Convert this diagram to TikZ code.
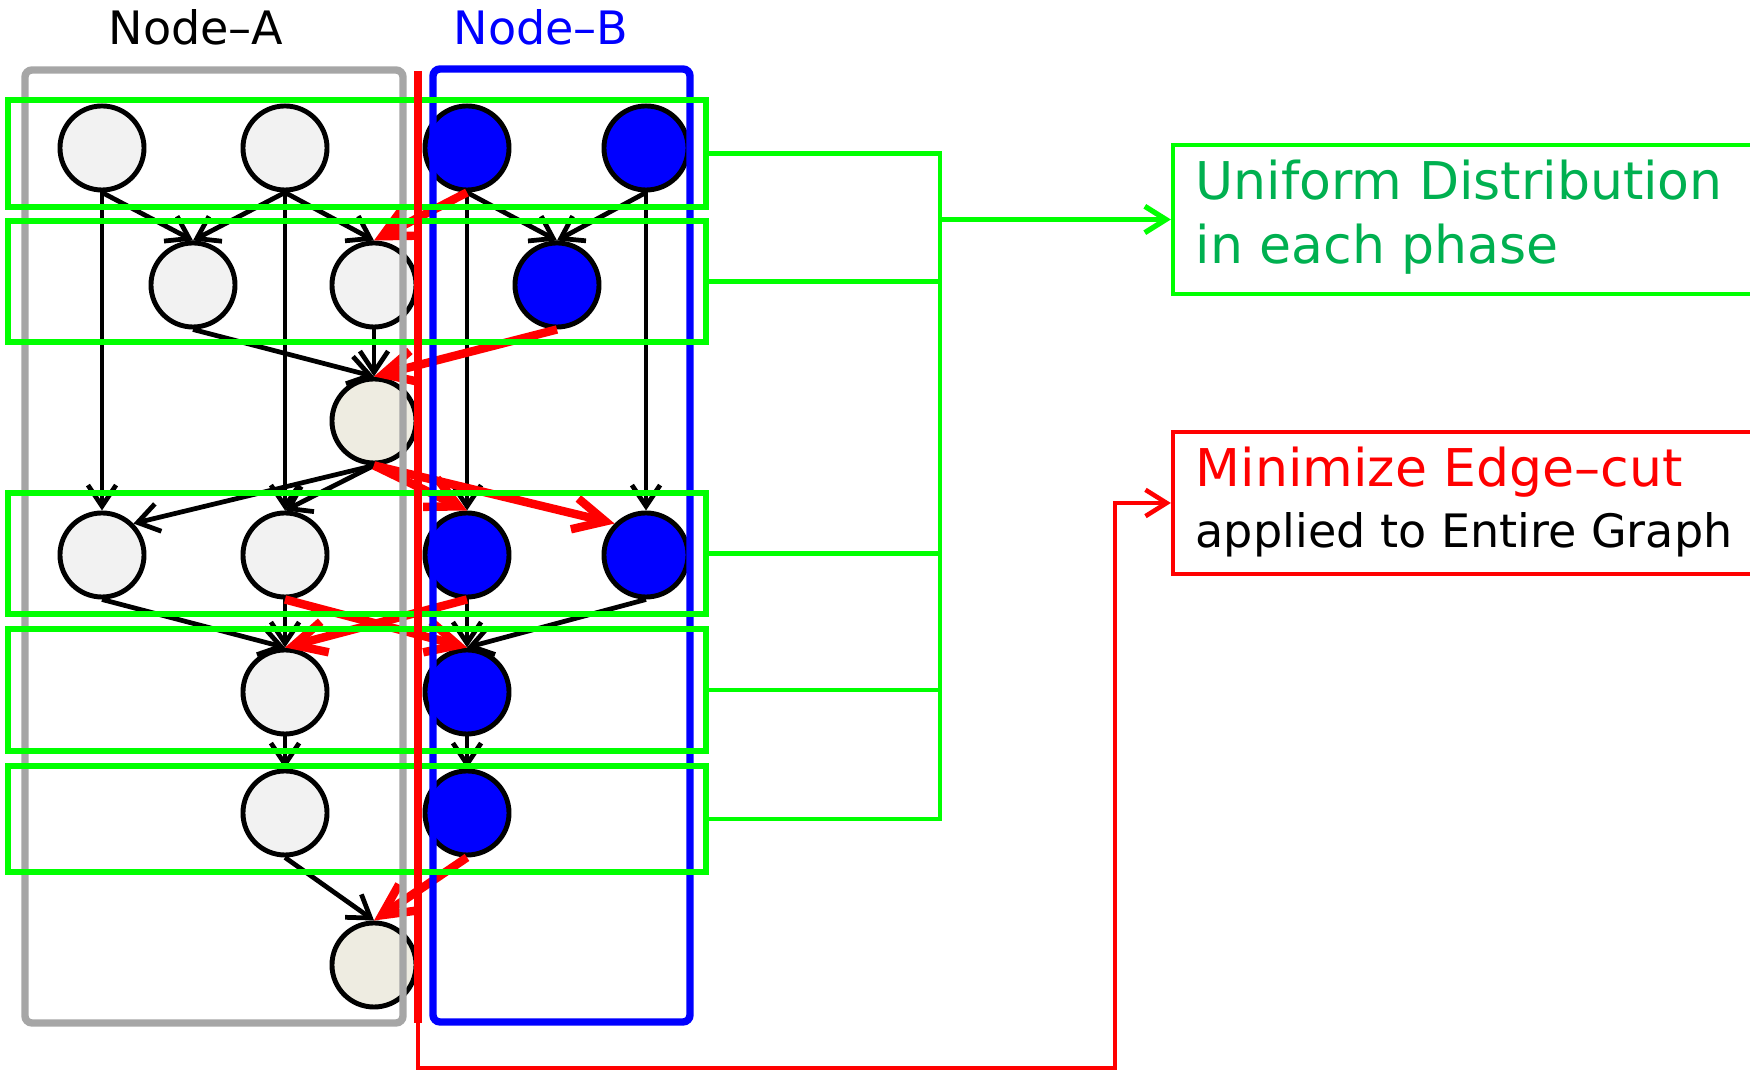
\documentclass[tikz,border=0pt]{standalone}
\usepackage{fontspec}
\setmainfont{DejaVu Sans}
\usepackage{tikz}
\usetikzlibrary{arrows.meta, positioning, calc}
\definecolor{PhaseGreen}{RGB}{0, 255, 0}
\definecolor{TextGreen}{RGB}{0, 176, 80}
\definecolor{HostGray}{RGB}{166, 166, 166}
\definecolor{TaskGray}{RGB}{242, 242, 242}
\definecolor{TaskTan}{RGB}{238, 236, 225}

\begin{document}
\begin{tikzpicture}[
    x=0.01cm, y=-0.01cm,
    task/.style={circle, draw=black, line width=1.4pt, fill=TaskGray,
                 minimum size=8.4mm, inner sep=0pt},
    taskB/.style={task, fill=blue},
    taskT/.style={task, fill=TaskTan},
    dep/.style={-{Straight Barb[length=6pt,width=8pt]}, line width=1.35pt},
    cutdep/.style={-{Straight Barb[length=9pt,width=9pt]}, line width=2.4pt, color=red},
    phase/.style={rectangle, draw=PhaseGreen, line width=1.6pt,
                  minimum width=69.8mm, inner sep=0pt},
    goalbox/.style={rectangle, line width=1.1pt, minimum width=58.7mm, inner sep=0pt},
    bracket/.style={draw=PhaseGreen, line width=1.3pt},
    big/.style={font=\fontsize{14.8}{18}\selectfont, anchor=base west, inner sep=0pt},
    small/.style={font=\fontsize{13.1}{16}\selectfont, anchor=base west, inner sep=0pt}
]
\useasboundingbox (0,0) rectangle (1750,1071);

% host labels
\node[small, anchor=base] (hostAlabel) at (196,45) {Node–A};
\node[small, anchor=base, text=blue] (hostBlabel) at (541,45) {Node–B};

% tasks
\node[task]  (a1) at (102,148) {};
\node[task]  (a2) at (285,148) {};
\node[taskB] (b1) at (467,148) {};
\node[taskB] (b2) at (646,148) {};
\node[task]  (a3) at (193,285) {};
\node[task]  (a4) at (374,285) {};
\node[taskB] (b3) at (557,285) {};
\node[taskT] (a5) at (374,421) {};
\node[task]  (a6) at (102,555) {};
\node[task]  (a7) at (285,555) {};
\node[taskB] (b4) at (467,555) {};
\node[taskB] (b5) at (646,555) {};
\node[task]  (a8) at (285,692) {};
\node[taskB] (b6) at (467,692) {};
\node[task]  (a9) at (285,813) {};
\node[taskB] (b7) at (467,813) {};
\node[taskT] (a10) at (374,965) {};

% local dependencies
\draw[dep] (a1.south) -- (a3.north);
\draw[dep] (a2.south) -- (a3.north);
\draw[dep] (a2.south) -- (a4.north);
\draw[dep] (a1.south) -- (a6.north);
\draw[dep] (a2.south) -- (a7.north);
\draw[dep] (b1.south) -- (b3.north);
\draw[dep] (b2.south) -- (b3.north);
\draw[dep] (b1.south) -- (b4.north);
\draw[dep] (b2.south) -- (b5.north);
\draw[dep] (a3.south) -- (a5.north);
\draw[dep] (a4.south) -- (a5.north);
\draw[dep] (a5.south) -- (a6.north east);
\draw[dep] (a5.south) -- (a7.north);
\draw[dep] (a6.south) -- (a8.north);
\draw[dep] (a7.south) -- (a8.north);
\draw[dep] (b4.south) -- (b6.north);
\draw[dep] (b5.south) -- (b6.north);
\draw[dep] (a8.south) -- (a9.north);
\draw[dep] (b6.south) -- (b7.north);
\draw[dep] (a9.south) -- (a10.north);

% cut dependencies
\draw[cutdep] (b1.south) -- (a4.north);
\draw[cutdep] (b3.south) -- (a5.north);
\draw[cutdep] (a5.south) -- (b4.north);
\draw[cutdep] (a5.south) -- (b5.north west);
\draw[cutdep] (a7.south) -- (b6.north);
\draw[cutdep] (b4.south) -- (a8.north);
\draw[cutdep] (b7.south) -- (a10.north);

% hosts
\draw[draw=HostGray, line width=2.1pt, rounded corners=2pt] (25,70) rectangle (403,1023);
\draw[draw=blue, line width=2.1pt, rounded corners=2pt] (433,69) rectangle (690,1022);

% phases
\node[phase, minimum height=10.7mm] (ph1) at (357,153.5) {};
\node[phase, minimum height=12.1mm] (ph2) at (357,281.5) {};
\node[phase, minimum height=12.1mm] (ph3) at (357,553.5) {};
\node[phase, minimum height=12.2mm] (ph4) at (357,690) {};
\node[phase, minimum height=10.6mm] (ph5) at (357,819) {};

% goals
\node[goalbox, draw=PhaseGreen, minimum height=14.9mm] (unif) at (1466.5,219.5) {};
\node[big, text=TextGreen] (unif1) at (1195,200) {Uniform Distribution};
\node[big, text=TextGreen] (unif2) at (1195,264) {in each phase};
\node[goalbox, draw=red, minimum height=14.2mm] (cut) at (1466.5,503) {};
\node[big, text=red] (cut1) at (1195,487) {Minimize Edge–cut};
\node[small] (cut2) at (1195,548) {applied to Entire Graph};

% phase bracket
\coordinate (spine) at (940,153.5);
\draw[bracket] (ph1.east) -- (ph1.east -| spine) -- (ph5.east -| spine) -- (ph5.east);
\foreach \p in {ph2, ph3, ph4}
    \draw[bracket] (\p.east) -- (\p.east -| spine);
\draw[bracket, line width=1.5pt, -{Straight Barb[length=6pt,width=7.5pt]}]
    (spine |- unif.west) -- (unif.west);

% edge-cut line
\coordinate (cuttop) at (418,71);
\coordinate (cutmid) at (418,1023);
\coordinate (cutbot) at (418,1068);
\coordinate (cutturn) at (1115,1068);
\draw[red, line width=2.2pt] (cuttop) -- (cutmid);
\draw[red, line width=1.3pt, -{Straight Barb[length=6pt,width=7.5pt]}]
    (cutmid) -- (cutbot) -- (cutturn) |- (cut.west);

\end{tikzpicture}
\end{document}
